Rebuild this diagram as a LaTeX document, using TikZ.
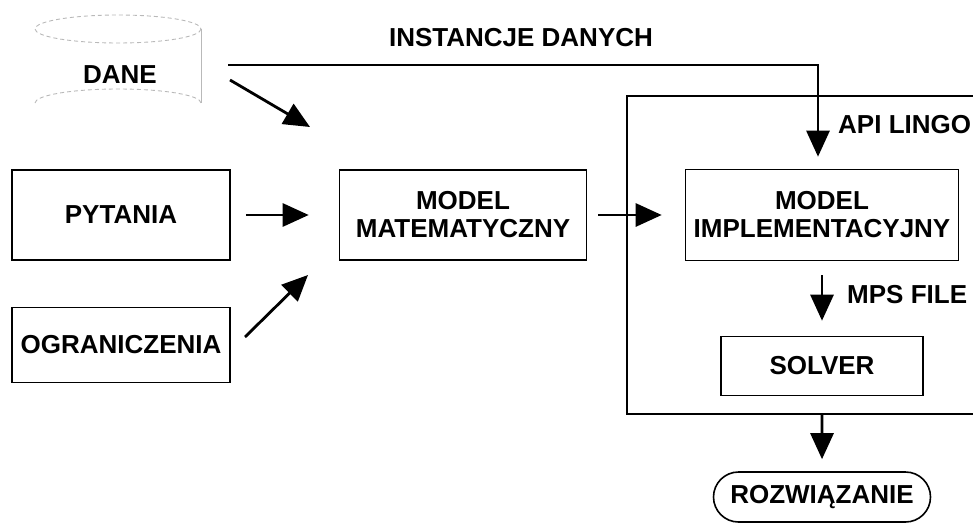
\documentclass[tikz,border=0pt]{standalone}
\usepackage{fontspec}
\setmainfont{Liberation Sans}
\usetikzlibrary{positioning,arrows.meta,shapes.misc,calc}
\tikzset{
  sbox/.style={draw=black,line width=1.6pt,inner sep=0pt,
               minimum width=218pt,minimum height=90pt,
               font=\fontsize{26}{28}\selectfont\bfseries,align=center},
  lbl/.style={inner sep=0pt,font=\fontsize{26}{28}\selectfont\bfseries},
  cyl/.style={draw=gray!55,line width=0.9pt,dash pattern=on 4pt off 3pt},
  arr/.style={-{Triangle[length=26pt,width=23pt]},line width=2.8pt},
}

\begin{document}
\begin{tikzpicture}[x=1pt,y=-1pt]
  \useasboundingbox (0,0) rectangle (973,527);

  % data store
  \draw[cyl] (118,29) ellipse [x radius=83,y radius=14];
  \draw[cyl] (35,103) arc[start angle=180,end angle=360,x radius=83,y radius=14];
  \draw[draw=gray!55,line width=0.8pt] (201,29) -- (201,103);
  \node[lbl] (dane) at (120,75) {DANE};

  \node[sbox] (pyt) at (121,215) {PYTANIA};
  \node[sbox,minimum height=75pt] (ogr) at (121,345) {OGRANICZENIA};
  \node[sbox,minimum width=247pt] (mat) at (463,215) {MODEL\\MATEMATYCZNY};

  % LINGO part
  \node[draw,line width=1.8pt,minimum width=380pt,minimum height=318pt,
        anchor=north west,inner sep=0pt] (lingo) at (626,95) {};
  \node[sbox,minimum width=273pt,minimum height=91pt] (impl) at (822,215) {MODEL\\IMPLEMENTACYJNY};
  \node[sbox,minimum width=202pt,minimum height=59pt] (solver) at (822,366) {SOLVER};
  \node[draw,rounded rectangle,line width=1.6pt,inner sep=0pt,
        minimum width=217pt,minimum height=50pt,
        font=\fontsize{26}{28}\selectfont\bfseries] (roz) at (822,497) {ROZWIĄZANIE};

  \node[lbl] (inst) at (521,38) {INSTANCJE DANYCH};
  \node[lbl,anchor=west] (api) at (838,125) {API LINGO};
  \node[lbl,anchor=west] (mps) at (847,295) {MPS FILE};

  \coordinate (d1) at (228,65);
  \coordinate (d2) at (230,80);
  \coordinate (d3) at (310,127);
  \coordinate (o1) at (245,337);
  \coordinate (o2) at (308,275);

  \draw[arr,shorten >=12pt] (d1) -| ([xshift=-4pt]impl.north);
  \draw[arr] (d2) -- (d3);
  \draw[arr] (o1) -- (o2);
  \draw[arr,shorten <=15pt,shorten >=30pt] (pyt) -- (mat);
  \draw[arr,shorten <=11pt,shorten >=23pt] (mat) -- (impl);
  \draw[arr,shorten <=14pt,shorten >=15pt] (impl) -- (solver);
  \draw[arr,shorten >=12pt] (lingo.south -| solver) -- (roz);
\end{tikzpicture}
\end{document}
